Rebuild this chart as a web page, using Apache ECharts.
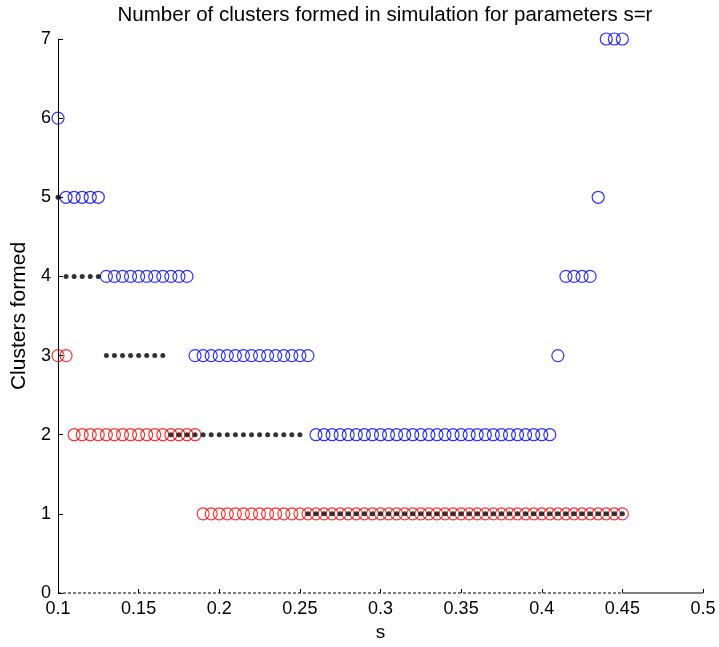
<!DOCTYPE html>
<html>
<head>
<meta charset="utf-8">
<script src="https://cdn.jsdelivr.net/npm/echarts@6/dist/echarts.min.js"></script>
<style>
  html, body { margin: 0; padding: 0; background: #fff; }
  #chart { width: 719px; height: 647px; }
</style>
</head>
<body>
<div id="chart"></div>
<script>
// parameter grid s (= r)
var sValues = [
  0.1, 0.105, 0.11, 0.115, 0.12, 0.125, 0.13, 0.135, 0.14, 0.145,
  0.15, 0.155, 0.16, 0.165, 0.17, 0.175, 0.18, 0.185, 0.19, 0.195,
  0.2, 0.205, 0.21, 0.215, 0.22, 0.225, 0.23, 0.235, 0.24, 0.245,
  0.25, 0.255, 0.26, 0.265, 0.27, 0.275, 0.28, 0.285, 0.29, 0.295,
  0.3, 0.305, 0.31, 0.315, 0.32, 0.325, 0.33, 0.335, 0.34, 0.345,
  0.35, 0.355, 0.36, 0.365, 0.37, 0.375, 0.38, 0.385, 0.39, 0.395,
  0.4, 0.405, 0.41, 0.415, 0.42, 0.425, 0.43, 0.435, 0.44, 0.445,
  0.45
]

// clusters formed, one value per s
var blueClusters = [
  6, 5, 5, 5, 5, 5, 4, 4, 4, 4,
  4, 4, 4, 4, 4, 4, 4, 3, 3, 3,
  3, 3, 3, 3, 3, 3, 3, 3, 3, 3,
  3, 3, 2, 2, 2, 2, 2, 2, 2, 2,
  2, 2, 2, 2, 2, 2, 2, 2, 2, 2,
  2, 2, 2, 2, 2, 2, 2, 2, 2, 2,
  2, 2, 3, 4, 4, 4, 4, 5, 7, 7,
  7
]
var redClusters = [
  3, 3, 2, 2, 2, 2, 2, 2, 2, 2,
  2, 2, 2, 2, 2, 2, 2, 2, 1, 1,
  1, 1, 1, 1, 1, 1, 1, 1, 1, 1,
  1, 1, 1, 1, 1, 1, 1, 1, 1, 1,
  1, 1, 1, 1, 1, 1, 1, 1, 1, 1,
  1, 1, 1, 1, 1, 1, 1, 1, 1, 1,
  1, 1, 1, 1, 1, 1, 1, 1, 1, 1,
  1
]
var blackClusters = [
  5, 4, 4, 4, 4, 4, 3, 3, 3, 3,
  3, 3, 3, 3, 2, 2, 2, 2, 2, 2,
  2, 2, 2, 2, 2, 2, 2, 2, 2, 2,
  2, 1, 1, 1, 1, 1, 1, 1, 1, 1,
  1, 1, 1, 1, 1, 1, 1, 1, 1, 1,
  1, 1, 1, 1, 1, 1, 1, 1, 1, 1,
  1, 1, 1, 1, 1, 1, 1, 1, 1, 1,
  1
]
// bottom edge: dashed over [0.1, 0.45], solid over [0.45, 0.5]
var dashedBase = [0.1, 0.45]
var solidBase = [0.45, 0.5]

var xTicks = ['0.1', '0.15', '0.2', '0.25', '0.3', '0.35', '0.4', '0.45', '0.5']
var yTicks = ['0', '1', '2', '3', '4', '5', '6', '7']

function pairs(ys) {
  var out = []
  for (var i = 0; i < sValues.length; i++) out.push([sValues[i], ys[i]])
  return out
}

var font = 'Liberation Sans, Arial, Helvetica, sans-serif'
var chart = echarts.init(document.getElementById('chart'))

chart.setOption({
  animation: false,
  backgroundColor: '#fff',
  title: {
    text: 'Number of clusters formed in simulation for parameters s=r',
    left: 380, top: 0, textAlign: 'center',
    textStyle: { fontFamily: font, fontSize: 20.5, fontWeight: 'normal', color: '#000' }
  },
  grid: { left: 58, right: 16, top: 39, bottom: 54, outerBoundsMode: 'none', containLabel: false },
  xAxis: {
    type: 'value', min: 0.1, max: 0.5, interval: 0.05,
    name: 's', nameLocation: 'middle', nameGap: 27,
    nameTextStyle: { fontFamily: font, fontSize: 19, color: '#000' },
    axisLine: { show: false },
    axisTick: { show: true, inside: true, length: 4, lineStyle: { color: '#000' } },
    axisLabel: {
      margin: 7, fontFamily: font, fontSize: 18, color: '#000',
      formatter: function (v) { return xTicks[Math.round((v - 0.1) / 0.05)] }
    },
    splitLine: { show: false }
  },
  yAxis: {
    type: 'value', min: 0, max: 7, interval: 1,
    name: 'Clusters formed', nameLocation: 'middle', nameGap: 24, nameRotate: 90,
    nameTextStyle: { fontFamily: font, fontSize: 21, color: '#000' },
    axisLine: { show: true, onZero: false, lineStyle: { color: '#000', width: 1 } },
    axisTick: { show: true, inside: true, length: 5, lineStyle: { color: '#000' } },
    axisLabel: {
      margin: 7, fontFamily: font, fontSize: 18, color: '#000',
      formatter: function (v) { return yTicks[v] }
    },
    splitLine: { show: false }
  },
  series: [
    {
      name: 'base dashed', type: 'line', symbol: 'none', silent: true, clip: false, z: 1,
      data: [[dashedBase[0], 0], [dashedBase[1], 0]],
      lineStyle: { color: '#000', width: 1, type: [3, 2] }
    },
    {
      name: 'base solid', type: 'line', symbol: 'none', silent: true, clip: false, z: 1,
      data: [[solidBase[0], 0], [solidBase[1], 0]],
      lineStyle: { color: '#000', width: 1, type: 'solid' }
    },
    {
      name: 'blue', type: 'scatter', symbol: 'circle', symbolSize: 12, z: 2,
      data: pairs(blueClusters),
      itemStyle: { color: 'rgba(0,0,0,0)', borderColor: '#0000ff', borderWidth: 1.2 }
    },
    {
      name: 'red', type: 'scatter', symbol: 'circle', symbolSize: 12, z: 3,
      data: pairs(redClusters),
      itemStyle: { color: 'rgba(0,0,0,0)', borderColor: '#ff0000', borderWidth: 1.2 }
    },
    {
      name: 'black', type: 'scatter', symbol: 'circle', symbolSize: 5, z: 4,
      data: pairs(blackClusters),
      itemStyle: { color: '#000' }
    }
  ]
})
</script>
</body>
</html>
